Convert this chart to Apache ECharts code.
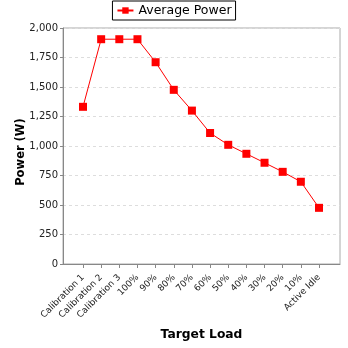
<!DOCTYPE html>
<html><head><meta charset="utf-8">
<script src="https://cdn.jsdelivr.net/npm/echarts@6/dist/echarts.min.js"></script>
<style>html,body{margin:0;padding:0;background:#fff}#c{width:348px;height:348px}</style>
</head><body><div id="c"></div>
<script>
const categories = ['Calibration 1','Calibration 2','Calibration 3','100%','90%','80%','70%','60%','50%','40%','30%','20%','10%','Active Idle'];
const averagePower = [1332, 1905, 1905, 1905, 1710, 1476, 1300, 1110, 1010, 934, 858, 781, 697, 476];
const yTicks = {min: 0, max: 2000, interval: 250};

const font = 'DejaVu Sans';
const chart = echarts.init(document.getElementById('c'), null, {renderer: 'canvas'});
chart.setOption({
  animation: false,
  backgroundColor: '#fff',
  textStyle: {fontFamily: font},
  legend: {
    top: 1, left: 'center',
    data: ['Average Power'],
    borderColor: '#000', borderWidth: 1, padding: [3, 4, 3, 4],
    itemWidth: 16, itemHeight: 8, itemGap: 4,
    textStyle: {fontFamily: font, fontSize: 12.5, color: '#000'}
  },
  grid: [
    {left: 63, right: 8, top: 28, bottom: 84, show: true, borderColor: '#aaa', borderWidth: 1, backgroundColor: '#fff'},
    {left: 83, right: 29, top: 28, bottom: 84}
  ],
  xAxis: [
    {type: 'category', gridIndex: 0, data: categories, axisLabel: {show: false}, axisTick: {show: false},
     axisLine: {lineStyle: {color: '#888'}}, name: 'Target Load', nameLocation: 'middle', nameGap: 65,
     nameTextStyle: {fontFamily: font, fontSize: 12.3, fontWeight: 'bold', color: '#000'}},
    {type: 'category', gridIndex: 1, data: categories, boundaryGap: false,
     axisLine: {show: false}, axisTick: {show: true, alignWithLabel: true, length: 4, lineStyle: {color: '#888'}},
     axisLabel: {rotate: 45, fontSize: 9, color: '#222', margin: 12, fontFamily: font, interval: 0}}
  ],
  yAxis: [
    {type: 'value', gridIndex: 0, min: yTicks.min, max: yTicks.max, interval: yTicks.interval,
     axisLine: {show: true, lineStyle: {color: '#888'}}, axisTick: {show: true, length: 3, lineStyle: {color: '#888'}},
     axisLabel: {fontSize: 10, color: '#222', margin: 5, fontFamily: font,
       formatter: v => v.toLocaleString('en-US')},
     splitLine: {show: true, lineStyle: {color: '#ddd', type: [3, 3]}}},
    {type: 'value', gridIndex: 1, min: yTicks.min, max: yTicks.max, interval: yTicks.interval,
     axisLine: {show: false}, axisTick: {show: false}, axisLabel: {show: false}, splitLine: {show: false},
     name: 'Power (W)', nameLocation: 'middle', nameGap: 56,
     nameTextStyle: {fontFamily: font, fontSize: 11.5, fontWeight: 'bold', color: '#000', padding: [0, 12, 0, 0]}}
  ],
  series: [{
    name: 'Average Power', type: 'line', xAxisIndex: 1, yAxisIndex: 1,
    data: averagePower, symbol: 'rect', symbolSize: 8,
    lineStyle: {color: '#ff0000', width: 1}, itemStyle: {color: '#ff0000'}
  }]
});
</script></body></html>
